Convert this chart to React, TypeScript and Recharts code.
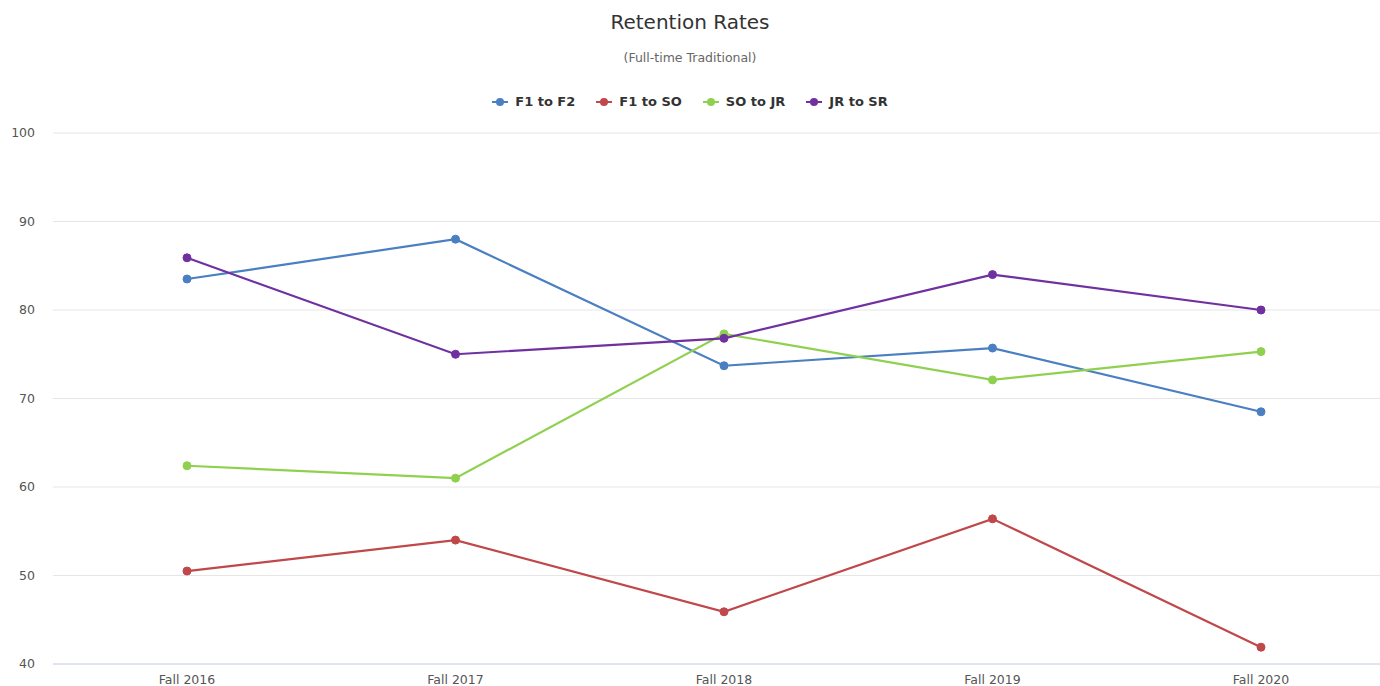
import React from 'react';
import { LineChart, Line, XAxis, YAxis, CartesianGrid } from 'recharts';

const categories = ['Fall 2016', 'Fall 2017', 'Fall 2018', 'Fall 2019', 'Fall 2020'];
const f1ToF2 = [83.5, 88.0, 73.7, 75.7, 68.5];
const f1ToSo = [50.5, 54.0, 45.9, 56.4, 41.9];
const soToJr = [62.4, 61.0, 77.3, 72.1, 75.3];
const jrToSr = [85.9, 75.0, 76.8, 84.0, 80.0];
const yTicks = [40, 50, 60, 70, 80, 90, 100];

const series = [
  { key: 'f1f2', name: 'F1 to F2', color: '#4a7fc1', values: f1ToF2 },
  { key: 'f1so', name: 'F1 to SO', color: '#c0474a', values: f1ToSo },
  { key: 'sojr', name: 'SO to JR', color: '#8fd14f', values: soToJr },
  { key: 'jrsr', name: 'JR to SR', color: '#7030a0', values: jrToSr },
];

const data = categories.map((c, i) => {
  const row: Record<string, string | number> = { cat: c };
  series.forEach((s) => {
    row[s.key] = s.values[i];
  });
  return row;
});

const font = '"DejaVu Sans", sans-serif';

function LegendRow() {
  return (
    <div
      style={{
        position: 'absolute',
        top: 94,
        left: 0,
        width: 1380,
        display: 'flex',
        justifyContent: 'center',
        gap: 21,
        fontFamily: font,
      }}
    >
      {series.map((s) => (
        <div key={s.key} style={{ display: 'flex', alignItems: 'center' }}>
          <svg width={16} height={10} style={{ marginRight: 7 }}>
            <line x1={0} y1={5} x2={16} y2={5} stroke={s.color} strokeWidth={2} />
            <circle cx={8} cy={5} r={4} fill={s.color} />
          </svg>
          <span style={{ fontSize: 13, fontWeight: 'bold', color: '#333' }}>{s.name}</span>
        </div>
      ))}
    </div>
  );
}

export default function App() {
  return (
    <div style={{ position: 'absolute', left: 0, top: 0, width: 1380, height: 686, background: '#fff', fontFamily: font }}>
      <div style={{ position: 'absolute', top: 10, width: 1380, textAlign: 'center', fontSize: 20, color: '#333' }}>
        Retention Rates
      </div>
      <div style={{ position: 'absolute', top: 50, width: 1380, textAlign: 'center', fontSize: 12.5, color: '#666' }}>
        (Full-time Traditional)
      </div>
      <LineChart width={1380} height={686} data={data} margin={{ top: 133, right: 0, bottom: 0, left: 0 }}>
        <CartesianGrid vertical={false} stroke="#e6e6e6" />
        <XAxis
          dataKey="cat"
          height={22}
          padding={{ left: 134, right: 119 }}
          tickLine={false}
          axisLine={{ stroke: '#ccd6eb' }}
          tick={{ fontSize: 12.5, fill: '#555', fontFamily: font }}
          tickMargin={5}
        />
        <YAxis
          domain={[40, 100]}
          ticks={yTicks}
          width={53}
          axisLine={false}
          tickLine={false}
          tickSize={0}
          tickMargin={18}
          tick={{ fontSize: 12.5, fill: '#555', fontFamily: font }}
        />
        {series.map((s) => (
          <Line
            key={s.key}
            dataKey={s.key}
            name={s.name}
            type="linear"
            stroke={s.color}
            strokeWidth={2.2}
            dot={{ r: 4, fill: s.color, stroke: s.color, strokeWidth: 1 }}
            activeDot={false}
            isAnimationActive={false}
          />
        ))}
      </LineChart>
      <LegendRow />
    </div>
  );
}
